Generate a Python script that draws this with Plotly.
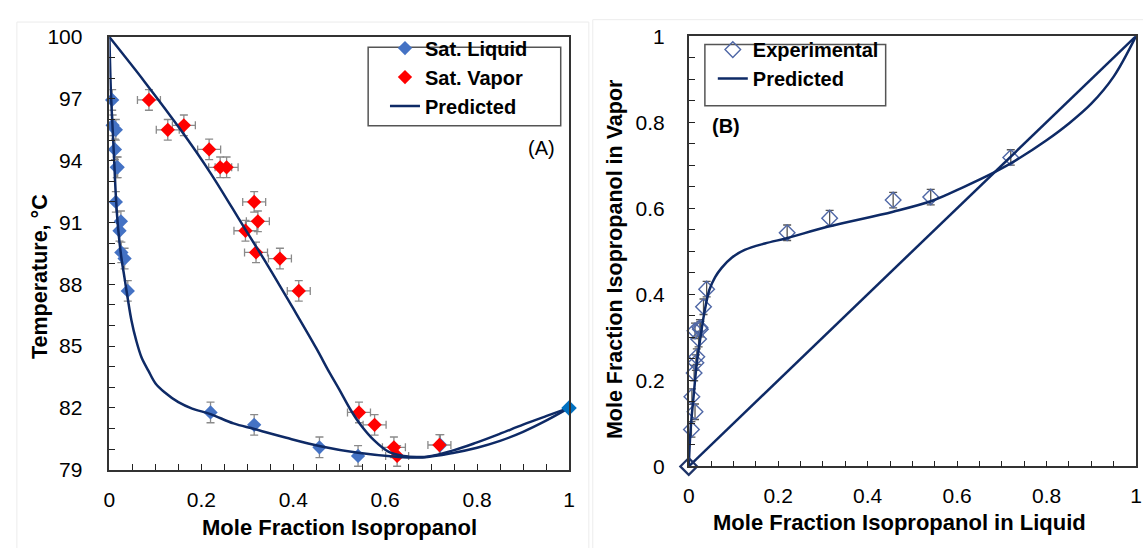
import plotly.graph_objects as go

W, H = 1143, 548

# --- Experimental VLE data: isopropanol / water ---
temp_c = [96.95, 95.72, 95.50, 94.55, 93.68, 93.68, 92.00, 91.06, 90.60, 89.55,
          89.25, 87.68, 81.78, 81.18, 80.09, 79.67, 80.20]
x_liquid = [0.006, 0.007, 0.014, 0.012, 0.016, 0.018, 0.014, 0.025, 0.022, 0.026,
            0.033, 0.040, 0.220, 0.315, 0.457, 0.541, 0.720]
y_vapor = [0.086, 0.162, 0.127, 0.217, 0.241, 0.255, 0.315, 0.323, 0.296, 0.319,
           0.371, 0.412, 0.543, 0.577, 0.619, 0.626, 0.718]

# pure isopropanol boiling point
x_pure = [1.0]
t_pure = [82.0]

# uncertainties
t_err = 0.5
x_err = 0.025
y_err = 0.018

# --- Model predictions ---
bubble_x = [0, 0.003, 0.006, 0.010, 0.014, 0.019, 0.026, 0.033, 0.040, 0.048, 0.058,
            0.070, 0.085, 0.100, 0.120, 0.150, 0.180, 0.220, 0.270, 0.315, 0.385,
            0.459, 0.541, 0.624, 0.681, 0.750, 0.800, 0.850, 0.900, 0.950, 1.0]
bubble_t = [100, 97.5, 96.0, 94.2, 92.3, 90.7, 89.3, 88.3, 87.3, 86.25, 85.3,
            84.45, 83.8, 83.2, 82.76, 82.28, 81.97, 81.7, 81.25, 80.98, 80.55,
            80.14, 79.82, 79.63, 79.60, 79.83, 80.07, 80.40, 80.84, 81.38, 82.0]

dew_x = [0, 0.076, 0.155, 0.220, 0.292, 0.345, 0.398, 0.450, 0.478, 0.500, 0.525,
         0.546, 0.575, 0.607, 0.640, 0.670, 0.690, 0.750, 0.800, 0.850, 0.900,
         0.950, 1.0]
dew_t = [100, 97.85, 95.5, 93.4, 90.8, 88.9, 86.9, 84.9, 83.75, 82.9, 81.9,
         81.2, 80.45, 79.88, 79.67, 79.62, 79.63, 79.95, 80.33, 80.75, 81.19,
         81.60, 82.0]

xy_x = [0, 0.004, 0.011, 0.018, 0.026, 0.035, 0.046, 0.059, 0.074, 0.096, 0.125,
        0.170, 0.221, 0.310, 0.457, 0.546, 0.612, 0.686, 0.737, 0.800, 0.850,
        0.900, 0.950, 1.0]
xy_y = [0, 0.084, 0.165, 0.240, 0.299, 0.358, 0.410, 0.440, 0.462, 0.485, 0.503,
        0.518, 0.531, 0.557, 0.592, 0.618, 0.648, 0.685, 0.715, 0.758, 0.797,
        0.843, 0.906, 1.0]

diag = [0, 1]

FONT = "Liberation Sans"
NAVY = "#0E2A66"
BLUE = "#4472C4"
RED = "#FF0000"
ERR_GRAY = "#8A8A8A"


def px_x(p):
    return p / W


def px_y(p):
    return 1 - p / H


fig = go.Figure()

# ---------------- Panel A: T-x-y ----------------
fig.add_trace(go.Scatter(
    x=x_liquid, y=temp_c, mode="markers", name="Sat. Liquid",
    marker=dict(symbol="diamond", size=11, color=BLUE),
    error_y=dict(type="constant", value=t_err, color=ERR_GRAY, thickness=1.3, width=4),
    cliponaxis=False, xaxis="x", yaxis="y", legend="legend",
))
fig.add_trace(go.Scatter(
    x=y_vapor, y=temp_c, mode="markers", name="Sat. Vapor",
    marker=dict(symbol="diamond", size=11, color=RED),
    error_y=dict(type="constant", value=t_err, color=ERR_GRAY, thickness=1.3, width=4),
    error_x=dict(type="constant", value=x_err, color=ERR_GRAY, thickness=1.3, width=4),
    cliponaxis=False, xaxis="x", yaxis="y", legend="legend",
))
fig.add_trace(go.Scatter(
    x=bubble_x, y=bubble_t, mode="lines", name="Predicted",
    line=dict(color=NAVY, width=2.5, shape="spline", smoothing=1),
    xaxis="x", yaxis="y", legend="legend",
))
fig.add_trace(go.Scatter(
    x=dew_x, y=dew_t, mode="lines", showlegend=False,
    line=dict(color=NAVY, width=2.5, shape="spline", smoothing=1),
    xaxis="x", yaxis="y",
))
fig.add_trace(go.Scatter(
    x=x_pure, y=t_pure, mode="markers", showlegend=False,
    marker=dict(symbol="diamond", size=12, color="#0070C0"),
    cliponaxis=False, xaxis="x", yaxis="y",
))

# ---------------- Panel B: y-x ----------------
fig.add_trace(go.Scatter(
    x=x_liquid, y=y_vapor, mode="markers", name="Experimental",
    marker=dict(symbol="diamond-open", size=12, color="#4F67A6", line=dict(width=1.4)),
    error_y=dict(type="constant", value=y_err, color="#555555", thickness=1.3, width=4),
    cliponaxis=False, xaxis="x2", yaxis="y2", legend="legend2",
))
fig.add_trace(go.Scatter(
    x=xy_x, y=xy_y, mode="lines", name="Predicted",
    line=dict(color=NAVY, width=2.5, shape="spline", smoothing=1),
    xaxis="x2", yaxis="y2", legend="legend2",
))
fig.add_trace(go.Scatter(
    x=diag, y=diag, mode="lines", showlegend=False,
    line=dict(color=NAVY, width=2.5),
    xaxis="x2", yaxis="y2",
))
fig.add_trace(go.Scatter(
    x=[0], y=[0], mode="markers", showlegend=False,
    marker=dict(symbol="diamond-open", size=13, color="#1F3468", line=dict(width=2.2)),
    cliponaxis=False, xaxis="x2", yaxis="y2",
))

minor_x = dict(dtick=0.05, tick0=0, ticks="inside", ticklen=6, tickwidth=1.2, tickcolor="#222222")
frac_ticks = [0, 0.2, 0.4, 0.6, 0.8, 1]
frac_text = ["0", "0.2", "0.4", "0.6", "0.8", "1"]

axis_common = dict(
    showline=True, linecolor="#333333", linewidth=1.5, mirror=True,
    ticks="inside", ticklen=6, tickwidth=1.3, tickcolor="#222222",
    showgrid=False, zeroline=False,
    tickfont=dict(family=FONT, size=21, color="#000000"),
)

legend_font = dict(family=FONT, size=20, color="#000000", weight="bold")

fig.update_layout(
    width=W, height=H,
    margin=dict(l=0, r=0, t=0, b=0),
    paper_bgcolor="white", plot_bgcolor="white",
    xaxis=dict(axis_common, domain=[px_x(104.5), px_x(569)], range=[0, 1],
               tickvals=frac_ticks, ticktext=frac_text, minor=minor_x,
               ticklabelstandoff=10, anchor="y"),
    yaxis=dict(axis_common, domain=[px_y(477.8), px_y(26.2)], range=[79, 100],
               tick0=79, dtick=3,
               minor=dict(dtick=1, tick0=79, ticks="inside", ticklen=6, tickwidth=1.2, tickcolor="#222222"),
               ticklabelstandoff=21, anchor="x"),
    xaxis2=dict(axis_common, domain=[px_x(690), px_x(1142)], range=[0, 1],
                tickvals=frac_ticks, ticktext=frac_text, minor=minor_x,
                ticklabelstandoff=10, anchor="y2"),
    yaxis2=dict(axis_common, domain=[px_y(474.3), px_y(25.2)], range=[0, 1],
                tickvals=frac_ticks, ticktext=frac_text, minor=minor_x,
                ticklabelstandoff=18, anchor="x2"),
    legend=dict(x=px_x(383), y=px_y(17.3), xanchor="left", yanchor="top",
                bgcolor="rgba(0,0,0,0)", borderwidth=0,
                font=legend_font, tracegroupgap=0, itemsizing="trace"),
    legend2=dict(x=px_x(714.3), y=px_y(18.9), xanchor="left", yanchor="top",
                 bgcolor="rgba(0,0,0,0)", borderwidth=0,
                 font=legend_font, tracegroupgap=0, itemsizing="trace"),
    showlegend=True,
)

x_title_font = dict(family=FONT, size=22, color="#000000", weight="bold")
y_title_font = dict(family=FONT, size=21.5, color="#000000", weight="bold")
annotations = [
    dict(text="Mole Fraction Isopropanol", x=px_x(336.8), y=px_y(538), font=x_title_font),
    dict(text="Temperature, °C", x=px_x(35), y=px_y(276), textangle=-90, font=y_title_font),
    dict(text="Mole Fraction Isopropanol in Liquid", x=px_x(903), y=px_y(533), font=x_title_font),
    dict(text="Mole Fraction Isopropanol in Vapor", x=px_x(615.6), y=px_y(257.8), textangle=-90, font=y_title_font),
    dict(text="(A)", x=px_x(541.5), y=px_y(141.5), font=dict(family=FONT, size=20, color="#000000")),
    dict(text="(B)", x=px_x(728), y=px_y(119), font=dict(family=FONT, size=20, color="#000000", weight="bold")),
]
for a in annotations:
    a.update(xref="paper", yref="paper", showarrow=False, xanchor="center", yanchor="middle")
fig.update_layout(annotations=annotations)

# legend frames
for (x0, y0, x1, y1) in [(366, 36.7, 560.6, 118.8), (706.3, 33.9, 889, 97.9)]:
    fig.add_shape(type="rect", xref="paper", yref="paper",
                  x0=px_x(x0), x1=px_x(x1), y0=px_y(y1), y1=px_y(y0),
                  line=dict(color="#555555", width=1.5), fillcolor="white", layer="above")

# faint chart-area outlines of the two panels
fig.add_shape(type="rect", xref="paper", yref="paper",
              x0=px_x(11), x1=px_x(589), y0=px_y(560), y1=px_y(10.5),
              line=dict(color="#ECECEC", width=1), layer="below")
fig.add_shape(type="rect", xref="paper", yref="paper",
              x0=px_x(593), x1=px_x(1160), y0=px_y(560), y1=px_y(8),
              line=dict(color="#ECECEC", width=1), layer="below")

fig.write_html("out.html")
